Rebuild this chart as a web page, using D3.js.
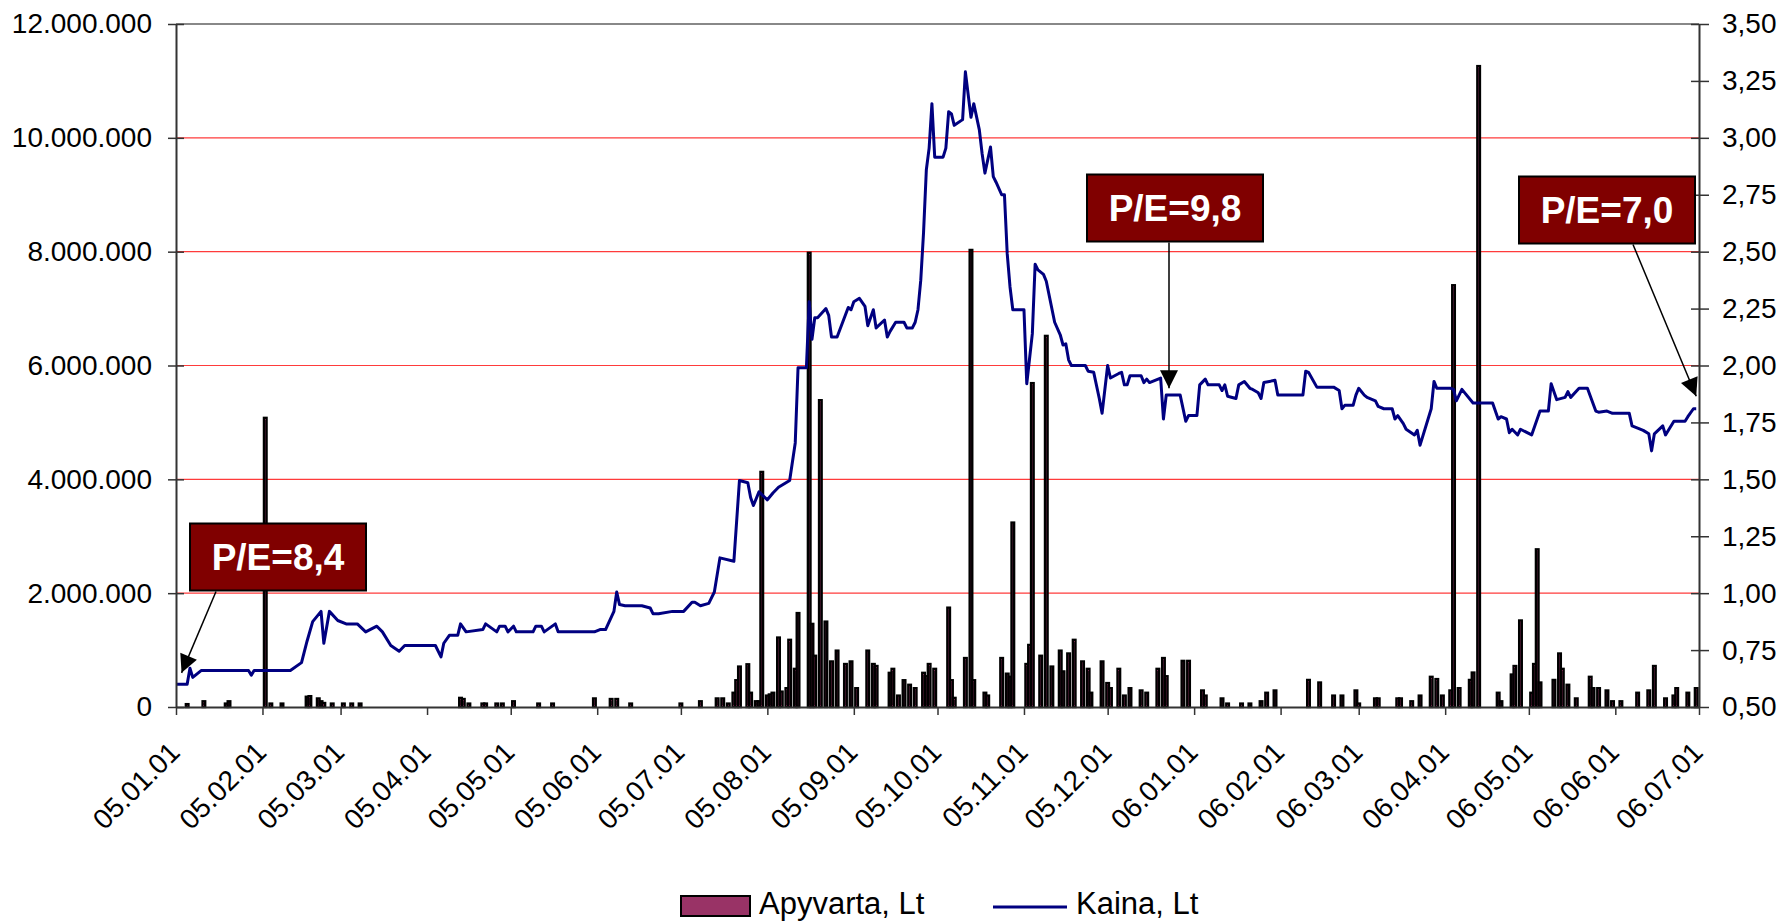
<!DOCTYPE html>
<html>
<head>
<meta charset="utf-8">
<script src="https://cdnjs.cloudflare.com/ajax/libs/d3/7.8.5/d3.min.js"></script>
<style>
body { margin: 0; background: #fff; }
text { font-family: "Liberation Sans", Arial, sans-serif; }
</style>
</head>
<body>
<div id="chart"></div>
<script>
// data below

var kaina = [
    ["05.01.01", 0.60], ["05.01.05", 0.60], ["05.01.06", 0.67], ["05.01.07", 0.63], ["05.01.10", 0.66],
    ["05.01.27", 0.66], ["05.01.28", 0.64], ["05.01.29", 0.66], ["05.02.11", 0.66], ["05.02.15", 0.695],
    ["05.02.17", 0.79], ["05.02.19", 0.875], ["05.02.22", 0.92], ["05.02.23", 0.78], ["05.02.25", 0.92],
    ["05.02.28", 0.88], ["05.03.03", 0.865], ["05.03.07", 0.865], ["05.03.10", 0.83], ["05.03.14", 0.855],
    ["05.03.16", 0.83], ["05.03.19", 0.77], ["05.03.22", 0.745], ["05.03.24", 0.77], ["05.04.04", 0.77],
    ["05.04.06", 0.72], ["05.04.07", 0.78], ["05.04.09", 0.815], ["05.04.12", 0.815], ["05.04.13", 0.865],
    ["05.04.15", 0.83], ["05.04.21", 0.84], ["05.04.22", 0.865], ["05.04.26", 0.83], ["05.04.27", 0.855],
    ["05.04.29", 0.855], ["05.04.30", 0.83], ["05.05.02", 0.855], ["05.05.03", 0.83], ["05.05.09", 0.83],
    ["05.05.10", 0.855], ["05.05.12", 0.855], ["05.05.13", 0.83], ["05.05.17", 0.865], ["05.05.18", 0.83],
    ["05.05.31", 0.83], ["05.06.02", 0.84], ["05.06.04", 0.84], ["05.06.07", 0.92], ["05.06.08", 1.005],
    ["05.06.09", 0.95], ["05.06.11", 0.945], ["05.06.17", 0.945], ["05.06.20", 0.935], ["05.06.21", 0.91],
    ["05.06.23", 0.91], ["05.06.28", 0.92], ["05.07.02", 0.92], ["05.07.05", 0.96], ["05.07.06", 0.96],
    ["05.07.08", 0.945], ["05.07.11", 0.955], ["05.07.13", 1.005], ["05.07.15", 1.155], ["05.07.20", 1.14],
    ["05.07.22", 1.495], ["05.07.25", 1.485], ["05.07.26", 1.42], ["05.07.27", 1.385], ["05.07.29", 1.445],
    ["05.08.01", 1.41], ["05.08.03", 1.44], ["05.08.05", 1.465], ["05.08.09", 1.495], ["05.08.11", 1.66],
    ["05.08.12", 1.99], ["05.08.15", 1.99], ["05.08.16", 2.28], ["05.08.17", 2.115], ["05.08.18", 2.21],
    ["05.08.19", 2.21], ["05.08.22", 2.25], ["05.08.23", 2.22], ["05.08.24", 2.125], ["05.08.26", 2.125],
    ["05.08.28", 2.19], ["05.08.30", 2.255], ["05.08.31", 2.245], ["05.09.01", 2.28], ["05.09.03", 2.295],
    ["05.09.05", 2.26], ["05.09.06", 2.175], ["05.09.08", 2.245], ["05.09.09", 2.165], ["05.09.12", 2.2],
    ["05.09.13", 2.125], ["05.09.14", 2.15], ["05.09.16", 2.19], ["05.09.19", 2.19], ["05.09.20", 2.165],
    ["05.09.22", 2.165], ["05.09.23", 2.19], ["05.09.24", 2.245], ["05.09.25", 2.375], ["05.09.26", 2.585],
    ["05.09.27", 2.86], ["05.09.28", 2.955], ["05.09.29", 3.15], ["05.09.30", 2.915], ["05.10.03", 2.915],
    ["05.10.04", 2.955], ["05.10.05", 3.115], ["05.10.06", 3.105], ["05.10.07", 3.055], ["05.10.10", 3.08],
    ["05.10.11", 3.29], ["05.10.13", 3.09], ["05.10.14", 3.15], ["05.10.16", 3.035], ["05.10.17", 2.93],
    ["05.10.18", 2.845], ["05.10.20", 2.96], ["05.10.21", 2.83], ["05.10.22", 2.805], ["05.10.24", 2.75],
    ["05.10.25", 2.75], ["05.10.26", 2.49], ["05.10.27", 2.345], ["05.10.28", 2.245], ["05.11.01", 2.245],
    ["05.11.02", 1.92], ["05.11.04", 2.14], ["05.11.05", 2.445], ["05.11.06", 2.42], ["05.11.08", 2.40],
    ["05.11.09", 2.37], ["05.11.12", 2.19], ["05.11.14", 2.135], ["05.11.15", 2.09], ["05.11.16", 2.095],
    ["05.11.17", 2.025], ["05.11.18", 2.0], ["05.11.23", 2.0], ["05.11.24", 1.975], ["05.11.26", 1.97],
    ["05.11.28", 1.855], ["05.11.29", 1.79], ["05.12.01", 2.0], ["05.12.02", 1.945], ["05.12.05", 1.965],
    ["05.12.06", 1.97], ["05.12.07", 1.915], ["05.12.08", 1.915], ["05.12.09", 1.955], ["05.12.13", 1.955],
    ["05.12.14", 1.925], ["05.12.15", 1.94], ["05.12.16", 1.925], ["05.12.20", 1.945], ["05.12.21", 1.765],
    ["05.12.22", 1.87], ["05.12.27", 1.87], ["05.12.29", 1.755], ["05.12.30", 1.78], ["06.01.02", 1.78],
    ["06.01.03", 1.915], ["06.01.05", 1.94], ["06.01.06", 1.915], ["06.01.10", 1.915], ["06.01.11", 1.89],
    ["06.01.12", 1.915], ["06.01.13", 1.865], ["06.01.16", 1.855], ["06.01.17", 1.915], ["06.01.19", 1.93],
    ["06.01.21", 1.9], ["06.01.22", 1.895], ["06.01.24", 1.88], ["06.01.25", 1.855], ["06.01.26", 1.925],
    ["06.01.30", 1.935], ["06.01.31", 1.87], ["06.02.09", 1.87], ["06.02.10", 1.975], ["06.02.11", 1.97],
    ["06.02.14", 1.905], ["06.02.20", 1.905], ["06.02.22", 1.89], ["06.02.23", 1.81], ["06.02.24", 1.825],
    ["06.02.27", 1.825], ["06.02.28", 1.87], ["06.03.01", 1.90], ["06.03.03", 1.87], ["06.03.04", 1.86],
    ["06.03.07", 1.845], ["06.03.08", 1.82], ["06.03.10", 1.81], ["06.03.13", 1.81], ["06.03.14", 1.765],
    ["06.03.15", 1.78], ["06.03.17", 1.745], ["06.03.18", 1.72], ["06.03.21", 1.695], ["06.03.22", 1.715],
    ["06.03.23", 1.65], ["06.03.27", 1.81], ["06.03.28", 1.93], ["06.03.29", 1.90], ["06.04.03", 1.90],
    ["06.04.04", 1.895], ["06.04.05", 1.845], ["06.04.07", 1.895], ["06.04.11", 1.835], ["06.04.18", 1.835],
    ["06.04.20", 1.765], ["06.04.21", 1.775], ["06.04.23", 1.765], ["06.04.24", 1.705], ["06.04.25", 1.72],
    ["06.04.27", 1.695], ["06.04.28", 1.72], ["06.05.02", 1.695], ["06.05.05", 1.80], ["06.05.08", 1.80],
    ["06.05.09", 1.92], ["06.05.11", 1.85], ["06.05.14", 1.86], ["06.05.15", 1.885], ["06.05.16", 1.86],
    ["06.05.19", 1.90], ["06.05.22", 1.90], ["06.05.25", 1.80], ["06.05.26", 1.795], ["06.05.29", 1.80],
    ["06.05.31", 1.79], ["06.06.06", 1.79], ["06.06.07", 1.735], ["06.06.11", 1.715], ["06.06.13", 1.70],
    ["06.06.14", 1.625], ["06.06.15", 1.70], ["06.06.18", 1.735], ["06.06.19", 1.695], ["06.06.22", 1.755],
    ["06.06.26", 1.755], ["06.06.27", 1.775], ["06.06.29", 1.81], ["06.06.30", 1.81]
];

var apyvarta = [
    ["05.01.05", 50000], ["05.01.11", 100000], ["05.01.19", 60000], ["05.01.20", 100000], ["05.02.02", 5080000],
    ["05.02.04", 60000], ["05.02.08", 60000], ["05.02.17", 180000], ["05.02.18", 190000], ["05.02.21", 150000],
    ["05.02.22", 100000], ["05.02.23", 70000], ["05.02.26", 60000], ["05.03.02", 60000], ["05.03.05", 60000],
    ["05.03.08", 60000], ["05.04.13", 160000], ["05.04.14", 140000], ["05.04.16", 60000], ["05.04.21", 60000],
    ["05.04.22", 60000], ["05.04.26", 60000], ["05.04.28", 60000], ["05.05.02", 100000], ["05.05.11", 60000],
    ["05.05.16", 60000], ["05.05.31", 150000], ["05.06.06", 140000], ["05.06.08", 140000], ["05.06.13", 60000],
    ["05.07.01", 60000], ["05.07.08", 100000], ["05.07.14", 150000], ["05.07.16", 150000], ["05.07.18", 60000],
    ["05.07.20", 250000], ["05.07.21", 470000], ["05.07.22", 710000], ["05.07.25", 750000], ["05.07.26", 250000],
    ["05.07.28", 100000], ["05.07.29", 100000], ["05.07.30", 4130000], ["05.08.01", 200000], ["05.08.02", 220000],
    ["05.08.03", 250000], ["05.08.05", 1220000], ["05.08.06", 270000], ["05.08.08", 330000], ["05.08.09", 1180000],
    ["05.08.11", 670000], ["05.08.12", 1650000], ["05.08.16", 7980000], ["05.08.17", 1460000], ["05.08.18", 900000],
    ["05.08.20", 5390000], ["05.08.22", 1500000], ["05.08.24", 800000], ["05.08.26", 990000], ["05.08.29", 755000],
    ["05.08.31", 800000], ["05.09.02", 330000], ["05.09.06", 990000], ["05.09.08", 755000], ["05.09.09", 720000],
    ["05.09.14", 600000], ["05.09.15", 670000], ["05.09.17", 200000], ["05.09.19", 470000], ["05.09.21", 390000],
    ["05.09.23", 330000], ["05.09.26", 600000], ["05.09.27", 540000], ["05.09.28", 755000], ["05.09.30", 670000],
    ["05.10.05", 1745000], ["05.10.06", 470000], ["05.10.07", 160000], ["05.10.11", 860000], ["05.10.13", 8030000],
    ["05.10.14", 470000], ["05.10.18", 250000], ["05.10.19", 200000], ["05.10.24", 860000], ["05.10.26", 585000],
    ["05.10.27", 530000], ["05.10.28", 3240000], ["05.11.02", 755000], ["05.11.03", 1090000], ["05.11.04", 5690000],
    ["05.11.07", 900000], ["05.11.09", 6520000], ["05.11.11", 710000], ["05.11.14", 990000], ["05.11.15", 625000],
    ["05.11.17", 940000], ["05.11.19", 1180000], ["05.11.22", 800000], ["05.11.24", 670000], ["05.11.25", 250000],
    ["05.11.29", 800000], ["05.12.01", 420000], ["05.12.02", 330000], ["05.12.05", 670000], ["05.12.07", 200000],
    ["05.12.09", 330000], ["05.12.13", 290000], ["05.12.15", 250000], ["05.12.19", 670000], ["05.12.21", 860000],
    ["05.12.22", 540000], ["05.12.28", 810000], ["05.12.30", 810000], ["06.01.04", 290000], ["06.01.05", 200000],
    ["06.01.11", 150000], ["06.01.13", 60000], ["06.01.18", 60000], ["06.01.21", 60000], ["06.01.25", 100000],
    ["06.01.27", 250000], ["06.01.30", 290000], ["06.02.11", 475000], ["06.02.15", 430000], ["06.02.20", 200000],
    ["06.02.23", 200000], ["06.02.28", 290000], ["06.03.01", 60000], ["06.03.07", 150000], ["06.03.08", 150000],
    ["06.03.15", 150000], ["06.03.16", 150000], ["06.03.20", 100000], ["06.03.23", 200000], ["06.03.27", 530000],
    ["06.03.29", 490000], ["06.03.31", 200000], ["06.04.03", 290000], ["06.04.04", 7410000], ["06.04.06", 330000],
    ["06.04.10", 475000], ["06.04.11", 605000], ["06.04.13", 11260000], ["06.04.20", 250000], ["06.04.21", 100000],
    ["06.04.25", 570000], ["06.04.26", 720000], ["06.04.28", 1520000], ["06.05.02", 250000], ["06.05.03", 755000],
    ["06.05.04", 2770000], ["06.05.05", 430000], ["06.05.10", 475000], ["06.05.12", 940000], ["06.05.13", 670000],
    ["06.05.15", 390000], ["06.05.18", 150000], ["06.05.23", 530000], ["06.05.24", 330000], ["06.05.26", 330000],
    ["06.05.29", 290000], ["06.05.31", 100000], ["06.06.03", 100000], ["06.06.09", 250000], ["06.06.13", 290000],
    ["06.06.15", 720000], ["06.06.19", 150000], ["06.06.22", 200000], ["06.06.23", 330000], ["06.06.27", 250000],
    ["06.06.30", 330000]
];

var xTickLabels = ["05.01.01", "05.02.01", "05.03.01", "05.04.01", "05.05.01", "05.06.01", "05.07.01",
    "05.08.01", "05.09.01", "05.10.01", "05.11.01", "05.12.01", "06.01.01", "06.02.01", "06.03.01",
    "06.04.01", "06.05.01", "06.06.01", "06.07.01"];
var leftTicks = [0, 2000000, 4000000, 6000000, 8000000, 10000000, 12000000];
var rightTicks = [0.5, 0.75, 1.0, 1.25, 1.5, 1.75, 2.0, 2.25, 2.5, 2.75, 3.0, 3.25, 3.5];
var seriesNames = ["Apyvarta, Lt", "Kaina, Lt"];

// P/E notes: text, date and price the arrow points at
var notes = [
    ["P/E=8,4", "05.01.03", 0.65],
    ["P/E=9,8", "05.12.23", 1.90],
    ["P/E=7,0", "06.06.30", 1.865]
];

// rest of logic below

var outerWidth = 1790,
    outerHeight = 921,
    margin = { top: 24, right: 91, bottom: 214, left: 176 },
    width = outerWidth - margin.left - margin.right,
    height = outerHeight - margin.top - margin.bottom;

var parseDate = d3.timeParse("%y.%m.%d");
var ltLocale = d3.formatLocale({ decimal: ",", thousands: ".", grouping: [3], currency: ["", ""] });
var fmtLeft = ltLocale.format(",.0f"),
    fmtRight = ltLocale.format(".2f");

var x = d3.scaleTime()
    .domain([parseDate(xTickLabels[0]), parseDate(xTickLabels[xTickLabels.length - 1])])
    .range([0, width]);

var yLeft = d3.scaleLinear()
    .domain([0, 12000000])
    .range([height, 0]);

var yRight = d3.scaleLinear()
    .domain([0.5, 3.5])
    .range([height, 0]);

var svg = d3.select("#chart")
    .append("svg")
    .attr("width", outerWidth)
    .attr("height", outerHeight)
    .style("display", "block");

var defs = svg.append("defs");
defs.append("marker")
    .attr("id", "arrow")
    .attr("viewBox", "0 0 10 10")
    .attr("refX", 10)
    .attr("refY", 5)
    .attr("markerUnits", "userSpaceOnUse")
    .attr("markerWidth", 22)
    .attr("markerHeight", 18)
    .attr("orient", "auto")
    .append("path")
    .attr("d", "M0,0 L10,5 L0,10 Z")
    .attr("fill", "#000");

var g = svg.append("g")
    .attr("transform", "translate(" + margin.left + "," + margin.top + ")");

// gridlines (red), top border grey
g.append("g")
    .selectAll("line")
    .data(leftTicks.filter(function(d) { return d > 0; }))
    .enter()
    .append("line")
    .attr("x1", 0)
    .attr("x2", width)
    .attr("y1", function(d) { return yLeft(d); })
    .attr("y2", function(d) { return yLeft(d); })
    .attr("stroke", function(d) { return d === 12000000 ? "#888" : "#ff3b3b"; })
    .attr("stroke-width", function(d) { return d === 12000000 ? 2 : 1.2; });

// volume bars
g.append("g")
    .selectAll("rect")
    .data(apyvarta)
    .enter()
    .append("rect")
    .attr("x", function(d) { return x(parseDate(d[0])) - 1.3; })
    .attr("y", function(d) { return yLeft(d[1]); })
    .attr("width", 2.6)
    .attr("height", function(d) { return height - yLeft(d[1]); })
    .attr("fill", "#993366")
    .attr("stroke", "#000")
    .attr("stroke-width", 2.4);

// price line
var line = d3.line()
    .x(function(d) { return x(parseDate(d[0])); })
    .y(function(d) { return yRight(d[1]); });

g.append("path")
    .datum(kaina)
    .attr("d", line)
    .attr("fill", "none")
    .attr("stroke", "#000080")
    .attr("stroke-width", 3)
    .attr("stroke-linejoin", "round");

// axes
var leftAxis = d3.axisLeft(yLeft)
    .tickValues(leftTicks)
    .tickFormat(fmtLeft)
    .tickSizeInner(8)
    .tickSizeOuter(0)
    .tickPadding(16);

var rightAxis = d3.axisRight(yRight)
    .tickValues(rightTicks)
    .tickFormat(fmtRight)
    .tickSizeInner(10)
    .tickSizeOuter(0)
    .tickPadding(13);

var bottomAxis = d3.axisBottom(x)
    .tickValues(xTickLabels.map(parseDate))
    .tickFormat(d3.timeFormat("%y.%m.%d"))
    .tickSizeInner(8)
    .tickSizeOuter(0);

var gL = g.append("g").call(leftAxis);
var gR = g.append("g").attr("transform", "translate(" + width + ",0)").call(rightAxis);
var gB = g.append("g").attr("transform", "translate(0," + height + ")").call(bottomAxis);

[gL, gR, gB].forEach(function(ax) {
    ax.select(".domain").attr("stroke", "#333").attr("stroke-width", 2);
    ax.selectAll(".tick line").attr("stroke", "#333").attr("stroke-width", 1.5);
    ax.selectAll("text")
        .attr("fill", "#000")
        .style("font-size", "28px")
        .style("font-family", "'Liberation Sans', Arial, sans-serif");
});

// cross ticks on the value axes
gL.selectAll(".tick line").attr("x1", 8);
gR.selectAll(".tick line").attr("x1", -8);

gB.selectAll(".tick text")
    .attr("text-anchor", "end")
    .attr("dy", null)
    .attr("y", 0)
    .attr("transform", "translate(5,47) rotate(-45)");

// P/E notes
var boxW = 176, boxH = 67;
var noteBoxes = [
    { cx: 278 - margin.left, cy: 557 - margin.top, sx: 216 - margin.left },
    { cx: 1175 - margin.left, cy: 208 - margin.top, sx: 1169 - margin.left },
    { cx: 1607 - margin.left, cy: 210 - margin.top, sx: 1633 - margin.left }
];

var noteG = g.append("g")
    .selectAll("g")
    .data(notes)
    .enter()
    .append("g");

noteG.append("line")
    .attr("x1", function(d, i) { return noteBoxes[i].sx; })
    .attr("y1", function(d, i) { return noteBoxes[i].cy + boxH / 2 + 1; })
    .attr("x2", function(d) { return x(parseDate(d[1])); })
    .attr("y2", function(d) { return yRight(d[2]); })
    .attr("stroke", "#000")
    .attr("stroke-width", 1.5)
    .attr("marker-end", "url(#arrow)");

noteG.append("rect")
    .attr("x", function(d, i) { return noteBoxes[i].cx - boxW / 2; })
    .attr("y", function(d, i) { return noteBoxes[i].cy - boxH / 2; })
    .attr("width", boxW)
    .attr("height", boxH)
    .attr("fill", "#800000")
    .attr("stroke", "#000")
    .attr("stroke-width", 2);

noteG.append("text")
    .attr("x", function(d, i) { return noteBoxes[i].cx; })
    .attr("y", function(d, i) { return noteBoxes[i].cy + 13; })
    .attr("text-anchor", "middle")
    .attr("fill", "#fff")
    .style("font-size", "37px")
    .style("font-weight", "bold")
    .text(function(d) { return d[0]; });

// legend
var legend = svg.append("g")
    .attr("transform", "translate(0,904)");

legend.append("rect")
    .attr("x", 681)
    .attr("y", -8)
    .attr("width", 69)
    .attr("height", 20)
    .attr("fill", "#993366")
    .attr("stroke", "#000")
    .attr("stroke-width", 2);

legend.append("text")
    .attr("x", 759)
    .attr("y", 10)
    .style("font-size", "31px")
    .text(seriesNames[0]);

legend.append("line")
    .attr("x1", 993)
    .attr("x2", 1067)
    .attr("y1", 3)
    .attr("y2", 3)
    .attr("stroke", "#000080")
    .attr("stroke-width", 3);

legend.append("text")
    .attr("x", 1076)
    .attr("y", 10)
    .style("font-size", "31px")
    .text(seriesNames[1]);
</script>
</body>
</html>
